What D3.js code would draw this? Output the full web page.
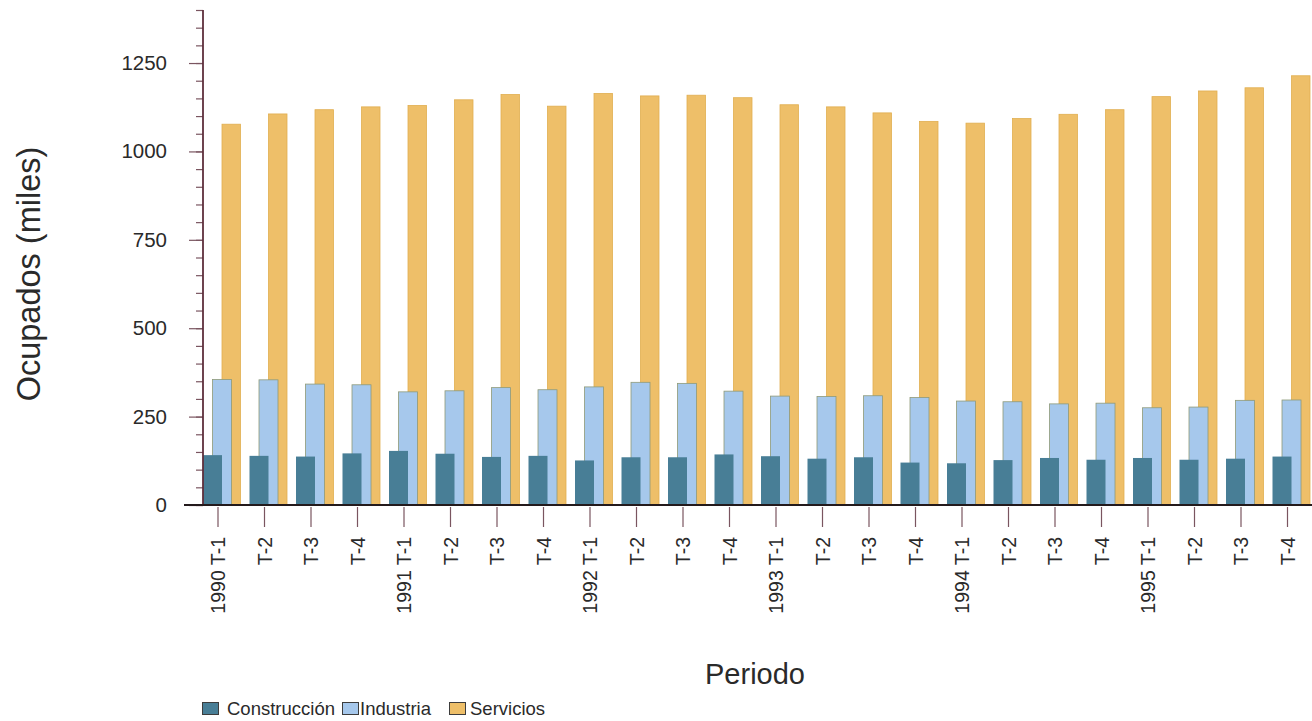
<!DOCTYPE html>
<html>
<head>
<meta charset="utf-8">
<script src="https://cdn.jsdelivr.net/npm/d3@7"></script>
<style>
  html, body { margin: 0; padding: 0; background: #ffffff; }
  svg { display: block; font-family: "Liberation Sans", Arial, Helvetica, sans-serif; }
</style>
</head>
<body>
<svg id="chart" width="1312" height="721"></svg>
<script>
// ---- data ----
const periods = [
  "1990 T-1","T-2","T-3","T-4",
  "1991 T-1","T-2 ","T-3 ","T-4 ",
  "1992 T-1","T-2  ","T-3  ","T-4  ",
  "1993 T-1","T-2   ","T-3   ","T-4   ",
  "1994 T-1","T-2    ","T-3    ","T-4    ",
  "1995 T-1","T-2     ","T-3     ","T-4     "
];
const construccion = [141,139,137,146,153,145,136,139,126,135,135,143,138,131,135,120,118,127,133,128,133,128,131,137];
const industria    = [355,354,342,340,320,323,332,326,334,347,344,322,308,307,309,304,294,292,286,288,275,277,296,297];
const servicios    = [1077,1106,1118,1126,1130,1146,1161,1128,1164,1157,1159,1152,1132,1126,1109,1085,1080,1093,1105,1118,1155,1171,1180,1214];
const seriesNames  = ["Construcción","Industria","Servicios"];
const seriesColors = ["#487e96","#a6c8ec","#eebf69"];
const yTickValues  = [0,250,500,750,1000,1250];

// ---- layout ----
const FONT = "Liberation Sans, Arial, Helvetica, sans-serif";
const svg = d3.select("#chart");
const x0 = 199, step = 46.5;
const x = d3.scaleBand().domain(periods).range([x0, x0 + step * periods.length]).padding(0);
const y = d3.scaleLinear().domain([0, 1400]).range([505, 10]);
const barW = 19, subStep = 9.5, barOffset = 4;

const data = periods.map((p, i) => ({ p, vals: [construccion[i], industria[i], servicios[i]] }));

// bars: draw back to front (Servicios, Industria, Construcción)
[2, 1, 0].forEach(s => {
  const g = svg.append("g");
  g.selectAll("rect").data(data).enter().append("rect")
    .attr("x", d => x(d.p) + barOffset + s * subStep)
    .attr("y", d => y(d.vals[s]))
    .attr("width", s === 2 ? barW - 0.5 : barW)
    .attr("height", d => y(0) - y(d.vals[s]))
    .attr("fill", seriesColors[s])
    .attr("stroke", s === 1 ? "#8f9a78" : (s === 2 ? "#e0ae50" : "none"))
    .attr("stroke-width", s === 0 ? 0 : 0.8);
});

// y axis
const yAxisMinor = d3.axisLeft(y).tickValues(d3.range(0, 1401, 50)).tickSize(7).tickFormat("");
const gyMinor = svg.append("g").attr("transform", "translate(203,0)").call(yAxisMinor);
gyMinor.select(".domain").remove();
gyMinor.selectAll(".tick line").attr("stroke", "#7a5560").attr("stroke-width", 1.2);

const yAxis = d3.axisLeft(y).tickValues(yTickValues).tickSize(14).tickPadding(22).tickFormat(d3.format("d"));
const gy = svg.append("g").attr("transform", "translate(203,0)").call(yAxis);
gy.attr("font-family", FONT).attr("font-size", 20.5);
gy.select(".domain").remove();
gy.selectAll(".tick line").attr("stroke", "#7a5560").attr("stroke-width", 1.2);
gy.selectAll(".tick text").attr("fill", "#2a2a2a");

svg.append("line").attr("x1", 203).attr("x2", 203).attr("y1", y(1400)).attr("y2", y(0))
  .attr("stroke", "#5e2f3c").attr("stroke-width", 1.8);

// x axis
const xAxis = d3.axisBottom(x).tickSize(0).tickFormat(d => d.trim());
const gx = svg.append("g").attr("transform", `translate(0,${y(0)})`).call(xAxis);
gx.attr("font-family", FONT).attr("font-size", 19.5);
gx.select(".domain").remove();
gx.selectAll(".tick line").remove();
gx.selectAll(".tick").each(function(d) {
  const t = d3.select(this);
  t.attr("transform", `translate(${x(d) + 19},0)`);
  t.append("line").attr("y1", 2).attr("y2", 22).attr("stroke", "#7a5560").attr("stroke-width", 1.2);
  t.select("text")
    .attr("transform", "rotate(-90)")
    .attr("x", -32).attr("y", 0).attr("dy", "0.36em")
    .attr("text-anchor", "end")
    .attr("fill", "#2a2a2a");
});
svg.append("line").attr("x1", 184).attr("x2", 1312).attr("y1", y(0)).attr("y2", y(0))
  .attr("stroke", "#231a1c").attr("stroke-width", 2.2);

// axis titles
svg.append("text").attr("transform", "translate(40,274) rotate(-90)")
  .attr("text-anchor", "middle").attr("font-size", 32.5).attr("fill", "#2a2a2a")
  .attr("font-family", FONT).text("Ocupados (miles)");
svg.append("text").attr("x", 755).attr("y", 684)
  .attr("text-anchor", "middle").attr("font-size", 29).attr("fill", "#2a2a2a")
  .attr("font-family", FONT).text("Periodo");

// legend
const legendX = [202, 342, 449];
const legendTextDx = [25, 18, 21];
const lg = svg.append("g").attr("font-family", FONT);
seriesNames.forEach((n, i) => {
  const g = lg.append("g").attr("transform", `translate(${legendX[i]},702)`);
  g.append("rect").attr("x", 0.5).attr("y", 0.5).attr("width", 16).attr("height", 12)
    .attr("fill", seriesColors[i]).attr("stroke", "#3d3d3d").attr("stroke-width", 1);
  g.append("text").attr("x", legendTextDx[i]).attr("y", 13)
    .attr("font-size", 18.5).attr("fill", "#2a2a2a").text(n);
});
</script>
</body>
</html>
